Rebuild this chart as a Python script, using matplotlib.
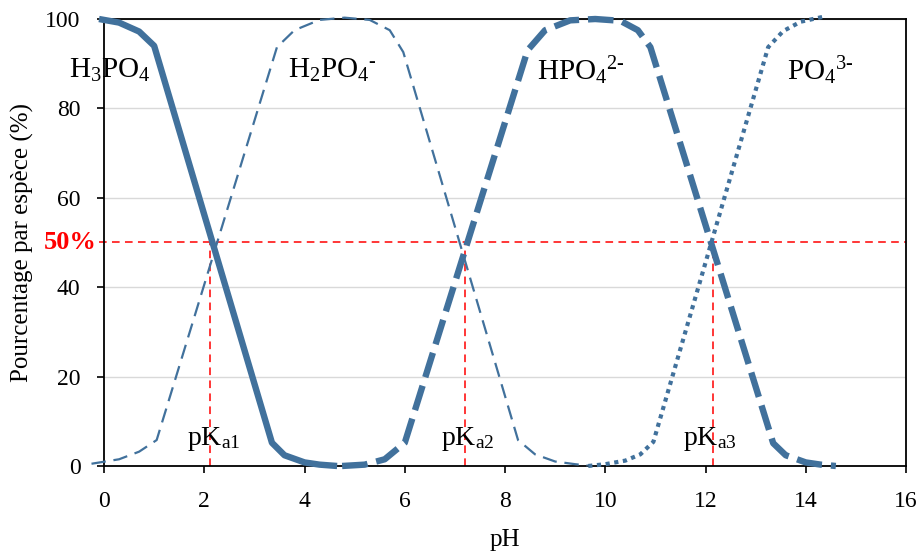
import matplotlib
matplotlib.use('Agg')
import matplotlib.pyplot as plt

plt.rcParams['font.family'] = ['Liberation Serif', 'DejaVu Serif']
plt.rcParams['mathtext.fontset'] = 'custom'
plt.rcParams['mathtext.rm'] = 'Liberation Serif'
plt.rcParams['mathtext.it'] = 'Liberation Serif'

blue = '#41719C'
red = '#FF0000'

# pH / percentage points for each species
ph_h3po4 = [-0.1, 0.3, 0.7, 1.0, 3.35, 3.6, 4.0, 4.3, 4.65]
pc_h3po4 = [100, 99.2, 97.2, 94.0, 5.2, 2.4, 0.8, 0.3, 0.0]

ph_h2po4 = [-0.25, 0.3, 0.7, 1.05, 3.45, 3.8, 4.3, 4.8, 5.3, 5.7, 5.97, 8.26, 8.6, 9.0, 9.4, 9.65]
pc_h2po4 = [0.5, 1.5, 3.2, 5.8, 93.7, 97.5, 99.8, 100.3, 99.8, 97.5, 92.6, 5.8, 2.6, 1.0, 0.4, 0.1]

ph_hpo4 = [4.75, 5.2, 5.6, 6.0, 8.45, 8.8, 9.3, 9.8, 10.3, 10.65, 10.9, 13.35, 13.6, 14.0, 14.3, 14.6]
pc_hpo4 = [0.0, 0.3, 1.5, 5.2, 93.0, 97.5, 99.7, 100.0, 99.6, 97.5, 93.7, 5.1, 2.4, 0.8, 0.3, 0.0]

ph_po4 = [9.66, 10.0, 10.4, 10.7, 10.96, 13.25, 13.55, 13.9, 14.35]
pc_po4 = [0.0, 0.4, 1.2, 2.6, 5.4, 93.7, 97.3, 99.4, 100.5]

pka = [2.12, 7.2, 12.15]
pka_labels = [r'pK$_{\mathrm{a1}}$', r'pK$_{\mathrm{a2}}$', r'pK$_{\mathrm{a3}}$']
pka_label_x = [2.18, 7.25, 12.08]

species = [r'H$_3$PO$_4$', r'H$_2$PO$_4$$^{\text{-}}$',
           r'HPO$_4$$^{\text{2-}}$', r'PO$_4$$^{\text{3-}}$']
species_x = [0.12, 4.55, 9.52, 14.3]
species_y = [88.5, 88.5, 88.5, 88.5]

fig = plt.figure(figsize=(9.23, 5.51), dpi=100)
ax = fig.add_axes([0.1127, 0.1543, 0.9816 - 0.1127, 0.9655 - 0.1543])

ax.set_xlim(0, 16)
ax.set_ylim(0, 100)
ax.set_xticks(range(0, 17, 2))
ax.set_yticks(range(0, 101, 20))
ax.yaxis.grid(True, color='#D9D9D9', lw=1)
ax.set_axisbelow(True)

for s in ax.spines.values():
    s.set_color('black')
    s.set_linewidth(1.3)
ax.tick_params(direction='out', length=5, width=1.2, labelsize=17, colors='black')
ax.tick_params(axis='x', pad=13)
ax.tick_params(axis='y', pad=12)

# 50 % guide and pKa drop lines
ax.plot([-0.1, 16], [50, 50], color=red, lw=1.1, ls=(0, (5, 3.5)), clip_on=False, zorder=1)
for p in pka:
    ax.plot([p, p], [0, 50], color=red, lw=1.1, ls=(0, (5, 3.5)), zorder=1)

ax.plot(ph_h2po4, pc_h2po4, color=blue, lw=1.6, ls=(0, (6.5, 3.5)), clip_on=False, zorder=3)
ax.plot(ph_h3po4, pc_h3po4, color=blue, lw=4.6, solid_capstyle='butt', clip_on=False, zorder=3)
ax.plot(ph_hpo4, pc_hpo4, color=blue, lw=4.6, ls=(0, (4, 1.4)), clip_on=False, zorder=3)
ax.plot(ph_po4, pc_po4, color=blue, lw=3.0, ls=(0, (1, 1.1)), clip_on=False, zorder=3)

for lbl, x, y in zip(species, species_x, species_y):
    ax.text(x, y, lbl, fontsize=21, ha='center', va='center')
for lbl, x in zip(pka_labels, pka_label_x):
    ax.text(x, 6, lbl, fontsize=20, ha='center', va='center')

ax.text(-0.15, 50, '50%', color=red, fontsize=19, fontweight='bold',
        ha='right', va='center')

ax.set_xlabel('pH', fontsize=18, labelpad=12)
ax.set_ylabel('Pourcentage par espèce (%)', fontsize=18, labelpad=8)

fig.savefig('out.png', dpi=100)
